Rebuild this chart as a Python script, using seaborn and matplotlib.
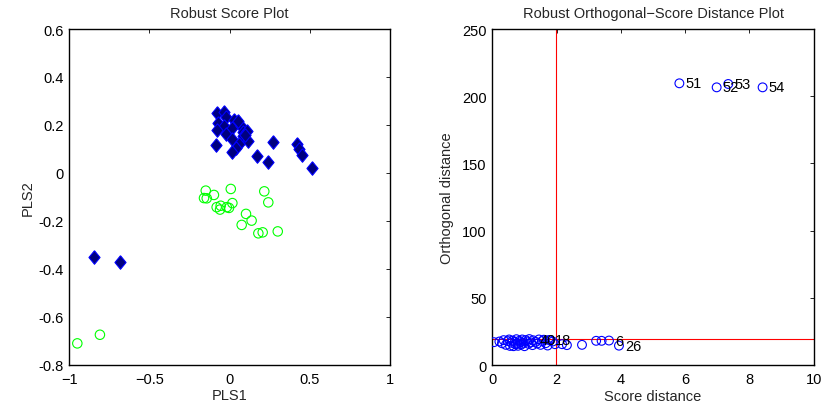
import numpy as np
import pandas as pd
import matplotlib
matplotlib.use("Agg")
import matplotlib.pyplot as plt
import seaborn as sns

# ---------------- data ----------------
# Robust score plot: group 1 (filled diamonds)
g1_pls1 = [-0.081, -0.035, -0.023, -0.071, -0.035, -0.077, 0.027, 0.013, -0.023, 0.013,
           0.069, 0.085, 0.106, 0.081, 0.116, 0.060, 0.040, 0.013, -0.085, 0.268,
           0.169, 0.237, 0.418, 0.434, 0.449, 0.512, -0.846, -0.684, 0.095, 0.050]
g1_pls2 = [0.250, 0.255, 0.232, 0.208, 0.197, 0.180, 0.222, 0.186, 0.162, 0.141,
           0.197, 0.172, 0.176, 0.153, 0.134, 0.120, 0.103, 0.086, 0.116, 0.130,
           0.069, 0.047, 0.120, 0.100, 0.076, 0.020, -0.352, -0.373, 0.160, 0.215]
# group 2 (open circles)
g2_pls1 = [-0.149, -0.160, -0.143, -0.098, -0.081, -0.056, -0.060, -0.018, -0.004, 0.007,
           0.017, 0.102, 0.137, 0.075, 0.179, 0.206, 0.216, 0.241, 0.300, -0.950, -0.809]
g2_pls2 = [-0.074, -0.105, -0.106, -0.092, -0.143, -0.137, -0.153, -0.143, -0.146, -0.067,
           -0.126, -0.171, -0.199, -0.217, -0.252, -0.248, -0.077, -0.123, -0.244, -0.711, -0.675]

# Robust orthogonal-score distance plot
score_dist = [0.05, 0.22, 0.30, 0.35, 0.42, 0.48, 0.52, 0.55, 0.60, 0.63, 0.66, 0.70,
              0.72, 0.75, 0.78, 0.80, 0.84, 0.88, 0.90, 0.93, 0.97, 1.00, 1.04, 1.08,
              1.12, 1.15, 1.20, 1.25, 1.35, 1.40, 1.45, 1.50, 1.55, 1.60, 1.66, 1.72,
              1.80, 1.88, 1.95, 2.17, 2.32, 2.79, 3.23, 3.40,
              1.27, 1.76, 3.63, 3.94, 5.82, 6.98, 7.34, 8.41]
orth_dist = [17.0, 17.5, 16.2, 18.5, 15.0, 17.8, 19.0, 14.2, 16.5, 18.2, 14.0, 17.2,
             15.5, 19.2, 16.0, 14.3, 18.0, 17.0, 15.2, 19.0, 16.5, 14.0, 18.5, 17.5,
             15.8, 19.3, 16.8, 14.8, 17.2, 16.0, 19.0, 15.0, 17.8, 18.8, 16.2, 14.5,
             18.6, 17.5, 15.5, 15.5, 14.8, 15.0, 18.0, 18.0,
             18.4, 18.6, 18.2, 14.4, 209.6, 206.6, 209.1, 206.6]
point_labels = [""] * 44 + ["40", "18", "6", "26", "51", "52", "53", "54"]
sd_cutoff = 1.98
od_cutoff = 19.2

left_xticks = [-1, -0.5, 0, 0.5, 1]
left_xticklabels = ["\u22121", "\u22120.5", "0", "0.5", "1"]
left_yticks = [0.6, 0.4, 0.2, 0, -0.2, -0.4, -0.6, -0.8]
left_yticklabels = ["0.6", "0.4", "0.2", "0", "-0.2", "-0.4", "-0.6", "-0.8"]
right_xticks = [0, 2, 4, 6, 8, 10]
right_yticks = [0, 50, 100, 150, 200, 250]

# ---------------- style ----------------
sns.set_style("white")
plt.rcParams["font.family"] = ["Liberation Sans", "DejaVu Sans"]
plt.rcParams["axes.unicode_minus"] = True

fig = plt.figure(figsize=(8.24, 4.10), dpi=100)
ax1 = fig.add_axes([0.0841, 0.108, 0.3892, 0.8188])
ax2 = fig.add_axes([0.5975, 0.1073, 0.3900, 0.8195])

df1 = pd.DataFrame({"PLS1": g1_pls1, "PLS2": g1_pls2})
df2 = pd.DataFrame({"PLS1": g2_pls1, "PLS2": g2_pls2})
df3 = pd.DataFrame({"sd": score_dist, "od": orth_dist, "lab": point_labels})

diamond = [(0, 1), (0.82, 0), (0, -1), (-0.82, 0), (0, 1)]
sns.scatterplot(data=df1, x="PLS1", y="PLS2", ax=ax1, marker=diamond, s=95,
                color="#000080", edgecolor="#0000FF", linewidth=0.8, zorder=3)
sns.scatterplot(data=df2, x="PLS1", y="PLS2", ax=ax1, marker="o", s=46,
                facecolor="none", edgecolor="#00FF00", linewidth=0.8, zorder=3)

sns.scatterplot(data=df3, x="sd", y="od", ax=ax2, marker="o", s=40,
                facecolor="none", edgecolor="#0000FF", linewidth=0.8, zorder=3)
ax2.axvline(sd_cutoff, color="#FF0000", lw=0.8, zorder=2)
ax2.axhline(od_cutoff, color="#FF0000", lw=0.8, zorder=2)
for _, r in df3.iterrows():
    if r["lab"]:
        ax2.annotate(r["lab"], (r["sd"], r["od"]), xytext=(4.5, 0),
                     textcoords="offset points", ha="left", va="center",
                     fontsize=10.5, color="black", zorder=4)

tick_fs = 10.5
lab_fs = 10.5
ax1.set_xlim(-1, 1)
ax1.set_ylim(-0.8, 0.6)
ax1.set_xticks(left_xticks)
ax1.set_xticklabels(left_xticklabels)
ax1.set_yticks(left_yticks)
ax1.set_yticklabels(left_yticklabels)
ax1.set_title("Robust Score Plot", fontsize=lab_fs, pad=9)
ax1.set_xlabel("PLS1", fontsize=lab_fs, labelpad=2)
ax1.set_ylabel("PLS2", fontsize=lab_fs, labelpad=3)

ax2.set_xlim(0, 10)
ax2.set_ylim(0, 250)
ax2.set_xticks(right_xticks)
ax2.set_yticks(right_yticks)
ax2.set_title("Robust Orthogonal\u2212Score Distance Plot", fontsize=lab_fs, pad=9)
ax2.set_xlabel("Score distance", fontsize=lab_fs, labelpad=2)
ax2.set_ylabel("Orthogonal distance", fontsize=lab_fs, labelpad=6)

for ax in (ax1, ax2):
    ax.tick_params(direction="in", top=True, right=True, length=3, width=0.6,
                   labelsize=tick_fs, colors="black")
    ax.tick_params(axis="x", pad=5)
    ax.tick_params(axis="y", pad=4)
    for sp in ax.spines.values():
        sp.set_visible(True)
        sp.set_color("black")
        sp.set_linewidth(1.0)
    ax.set_facecolor("white")

fig.savefig("out.png", dpi=100, facecolor="white")
